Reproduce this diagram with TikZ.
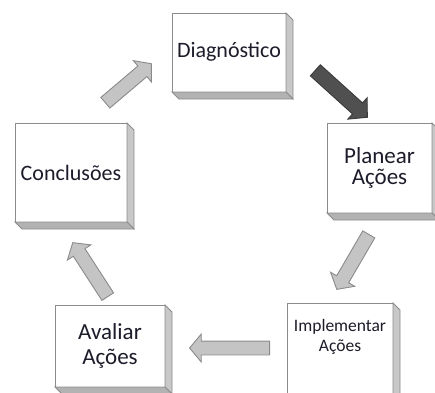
\documentclass[tikz,border=0pt]{standalone}
\usepackage{fontspec}
\newfontfamily\boxfont{Carlito}
\usetikzlibrary{calc,shapes.arrows}

\definecolor{frameline}{HTML}{8C8C8C}
\definecolor{sideR}{HTML}{C8C8C8}
\definecolor{sideB}{HTML}{B2B2B2}
\definecolor{arrowfill}{HTML}{C4C4C4}
\definecolor{arrowline}{HTML}{8A8A8A}
\definecolor{darkfill}{HTML}{505050}
\definecolor{darkline}{HTML}{3A3A3A}
\definecolor{ink}{HTML}{1C1C2A}

\tikzset{
  stagebox/.style={draw=frameline, line width=1pt, fill=white, inner sep=0pt,
    outer sep=0pt, text=ink, align=center},
  sideface/.style={draw=frameline, line width=0.8pt},
  lightarrow/.style={single arrow, draw=arrowline, fill=arrowfill, line width=0.9pt,
    inner xsep=0pt, inner ysep=6.5pt, single arrow head extend=7pt,
    single arrow tip angle=100},
  darkarrow/.style={single arrow, draw=darkline, fill=darkfill, line width=0.9pt,
    inner xsep=0pt, inner ysep=7pt, single arrow head extend=7pt,
    single arrow tip angle=95},
}

% extruded right and bottom faces of a box node
\newcommand\extrude[1]{%
  \filldraw[sideface, fill=sideR] (#1.north east) -- ++(7,7)
    -- ([shift={(7,7)}]#1.south east) -- (#1.south east) -- cycle;
  \filldraw[sideface, fill=sideB] (#1.south west) -- ++(7,7)
    -- ([shift={(7,7)}]#1.south east) -- (#1.south east) -- cycle;
}

% block arrow from one named point to another
\newcommand\blockarrow[3]{%
  \path let \p1=($(#3)-(#2)$) in
    node[#1, anchor=tail, minimum height={veclen(\x1,\y1)},
         rotate={atan2(\y1,\x1)}] at (#2) {};
}

\begin{document}
\begin{tikzpicture}[x=1pt, y=-1pt]
  \useasboundingbox (0,0) rectangle (435,392);

  % stages of the cycle
  \node[stagebox, minimum width=114pt, minimum height=79pt,
        font=\boxfont\fontsize{22}{24}\selectfont] (diag) at (229,52.5)
    {\raisebox{5pt}{Diagnóstico}};
  \node[stagebox, minimum width=105pt, minimum height=90pt,
        font=\boxfont\fontsize{23}{21}\selectfont] (plan) at (379.5,168)
    {Planear\\Ações};
  \node[stagebox, minimum width=106pt, minimum height=92pt,
        font=\boxfont\fontsize{17.5}{20}\selectfont] (impl) at (340,349)
    {Implementar\\Ações\\[8pt]};
  \node[stagebox, minimum width=110pt, minimum height=82pt,
        font=\boxfont\fontsize{23}{25}\selectfont] (aval) at (110,346)
    {Avaliar\\Ações};
  \node[stagebox, minimum width=112pt, minimum height=99pt,
        font=\boxfont\fontsize{22}{24}\selectfont] (concl) at (71,172.5)
    {Conclusões};

  \extrude{diag}
  \extrude{plan}
  \extrude{impl}
  \extrude{aval}
  \extrude{concl}

  % arrow end points
  \coordinate (dpS) at (315,70);   \coordinate (dpE) at (367,117);
  \coordinate (piS) at (369,234);  \coordinate (piE) at (337,289);
  \coordinate (iaS) at (270,348);  \coordinate (iaE) at (190,348);
  \coordinate (acS) at (108,297);  \coordinate (acE) at (73,243);
  \coordinate (cdS) at (105,103);  \coordinate (cdE) at (151,64);

  \blockarrow{darkarrow}{dpS}{dpE}
  \blockarrow{lightarrow}{piS}{piE}
  \blockarrow{lightarrow}{iaS}{iaE}
  \blockarrow{lightarrow}{acS}{acE}
  \blockarrow{lightarrow}{cdS}{cdE}
\end{tikzpicture}
\end{document}
